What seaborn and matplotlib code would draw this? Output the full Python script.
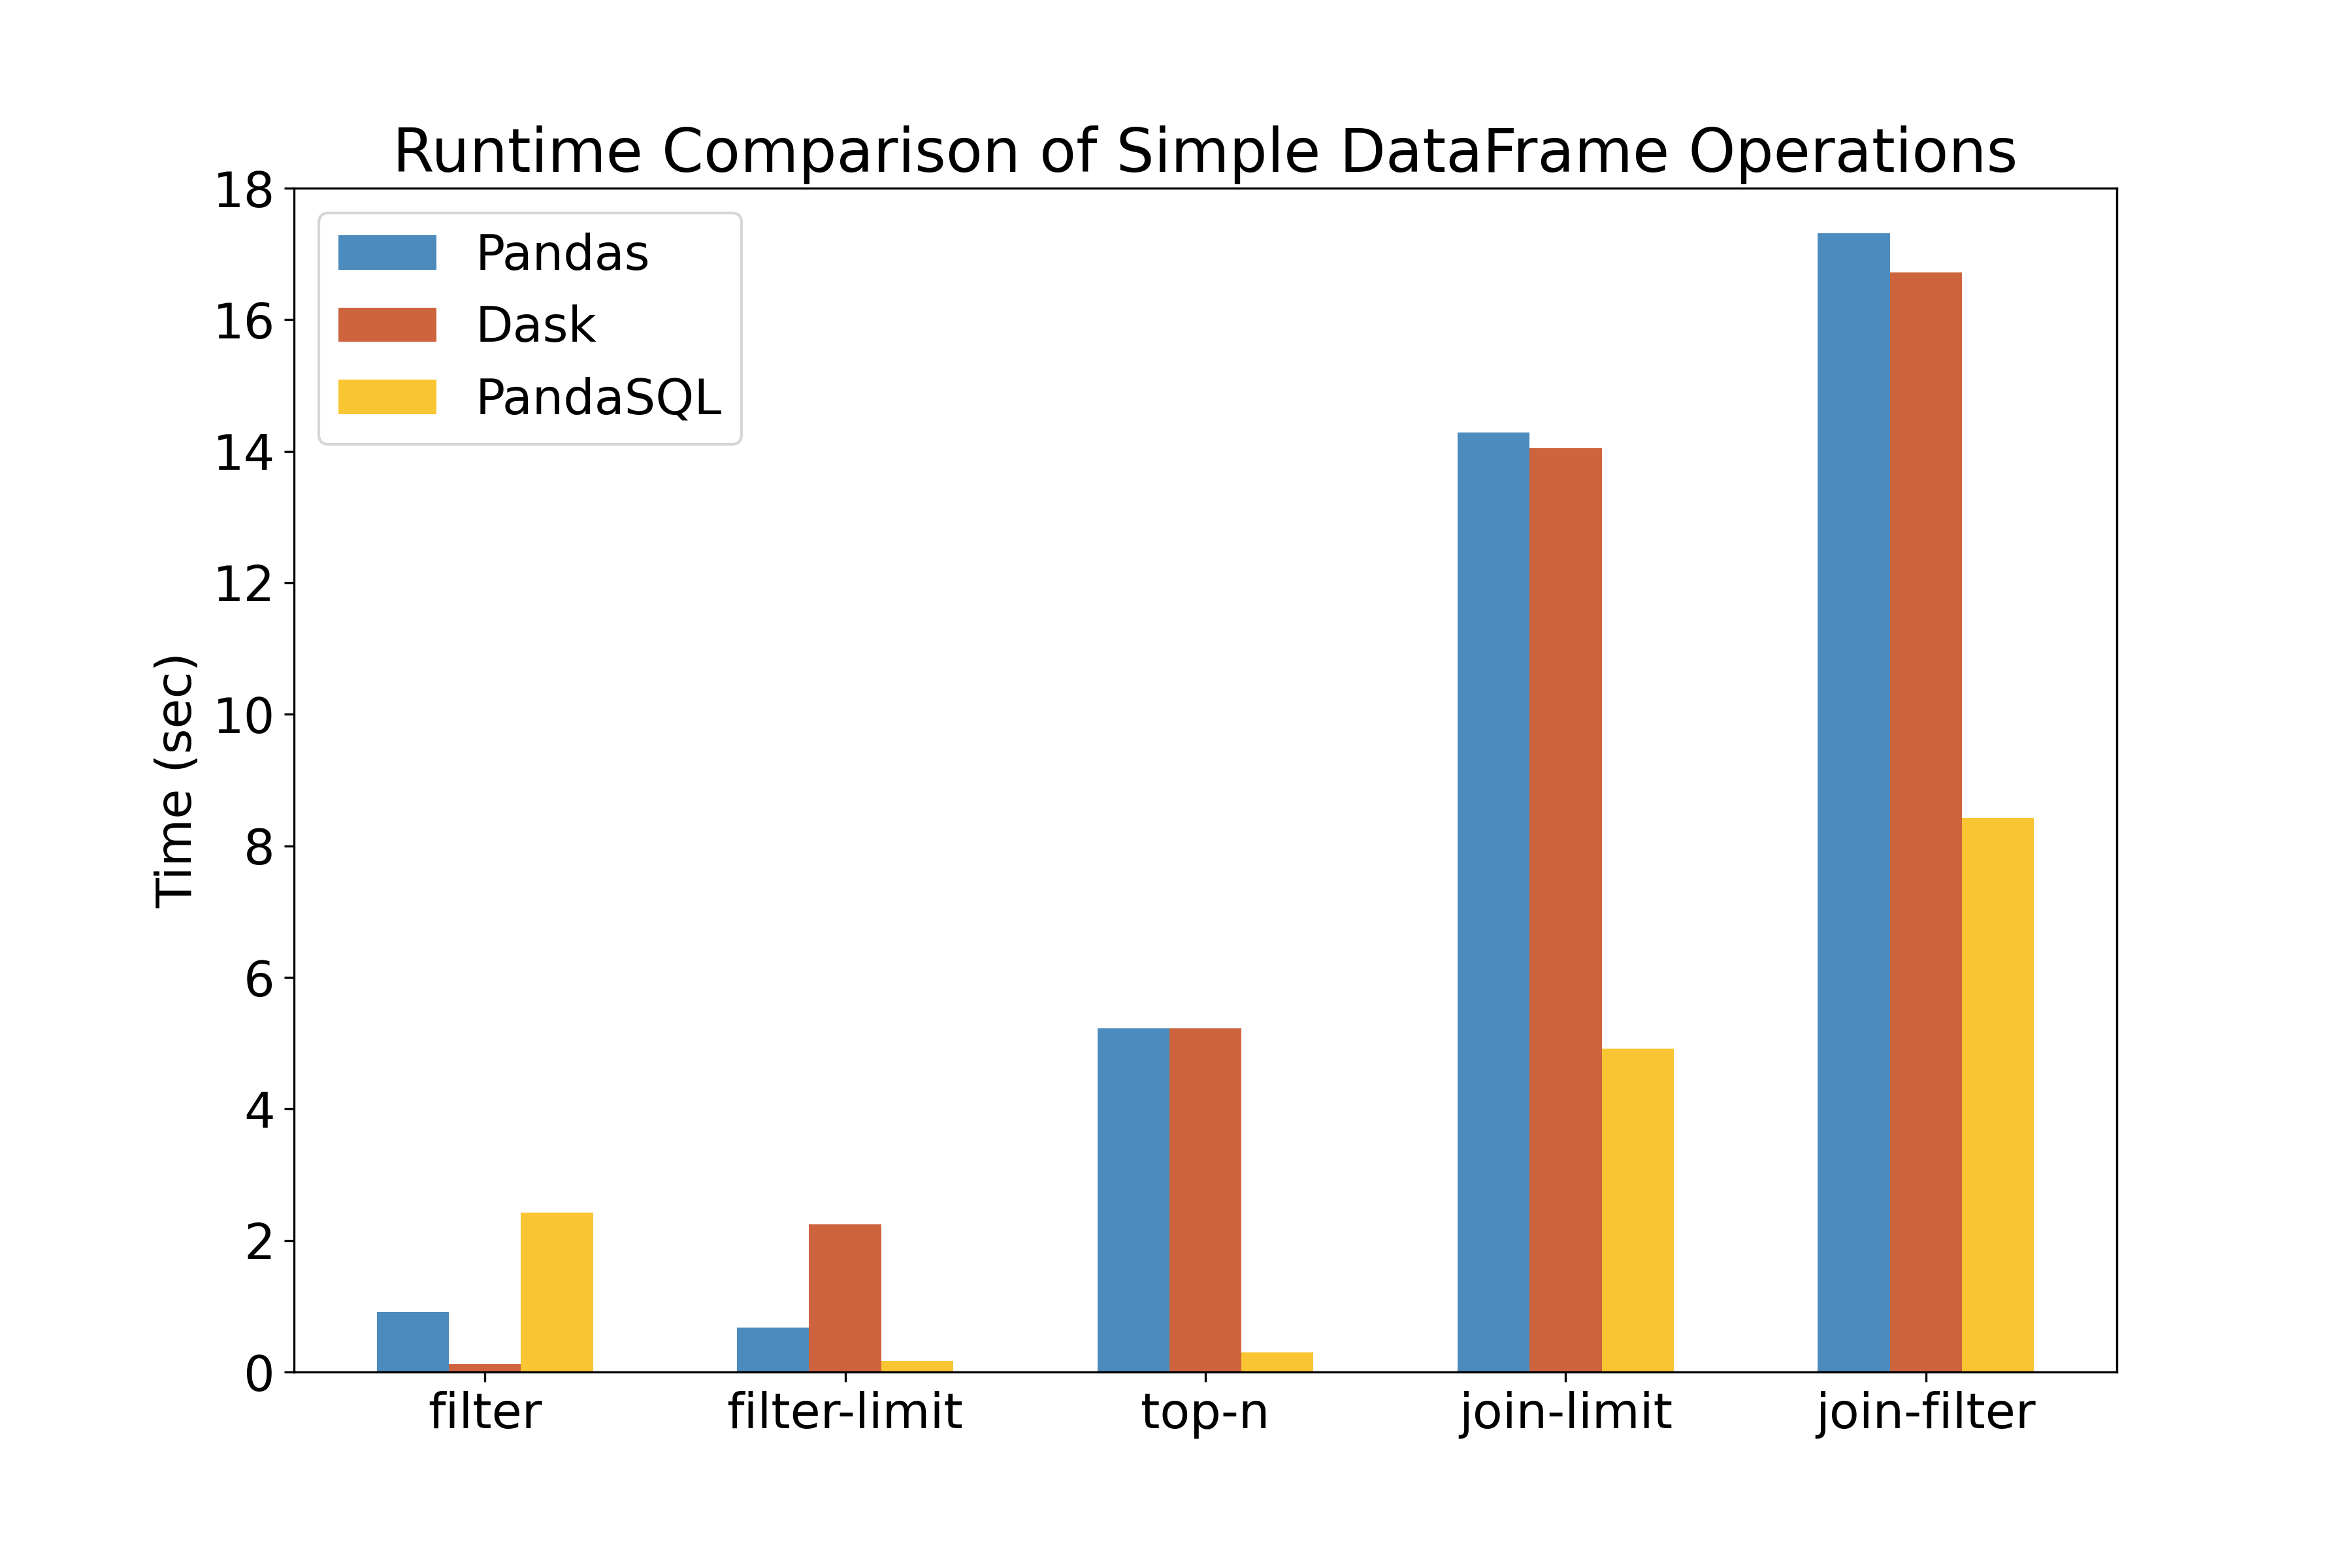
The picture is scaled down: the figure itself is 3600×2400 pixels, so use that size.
import pandas as pd
import seaborn as sns
import matplotlib
matplotlib.use("Agg")
import matplotlib.pyplot as plt

######## DATA
operations = ["filter", "filter-limit", "top-n", "join-limit", "join-filter"]
systems = ["Pandas", "Dask", "PandaSQL"]
pandas_times = [0.91, 0.68, 5.23, 14.28, 17.31]
dask_times = [0.12, 2.25, 5.23, 14.05, 16.72]
pandasql_times = [2.42, 0.17, 0.30, 4.92, 8.42]
colors = ["#4C8BBE", "#CE643D", "#FAC532"]

# long form for seaborn
df = pd.DataFrame({
    "operation": operations * 3,
    "system": [s for s in systems for _ in operations],
    "time": pandas_times + dask_times + pandasql_times,
})

######## PLOT
fig, ax = plt.subplots(figsize=(12, 8), dpi=300)
fig.subplots_adjust(left=0.125, right=0.9, top=0.88, bottom=0.125)

sns.barplot(data=df, x="operation", y="time", hue="system",
            order=operations, hue_order=systems, palette=colors,
            width=0.6, gap=0, saturation=1, linewidth=0,
            errorbar=None, ax=ax)

ax.set_xlim(-0.53, 4.53)
ax.set_ylim(0, 18)
ax.set_yticks(range(0, 19, 2))
ax.set_xlabel("")
ax.set_ylabel("Time (sec)", fontsize=18)
ax.set_title("Runtime Comparison of Simple DataFrame Operations", fontsize=22)
ax.tick_params(axis="both", labelsize=18)

sns.move_legend(ax, "upper left", title=None, fontsize=18, frameon=True)

fig.savefig("out.png", dpi=300)
